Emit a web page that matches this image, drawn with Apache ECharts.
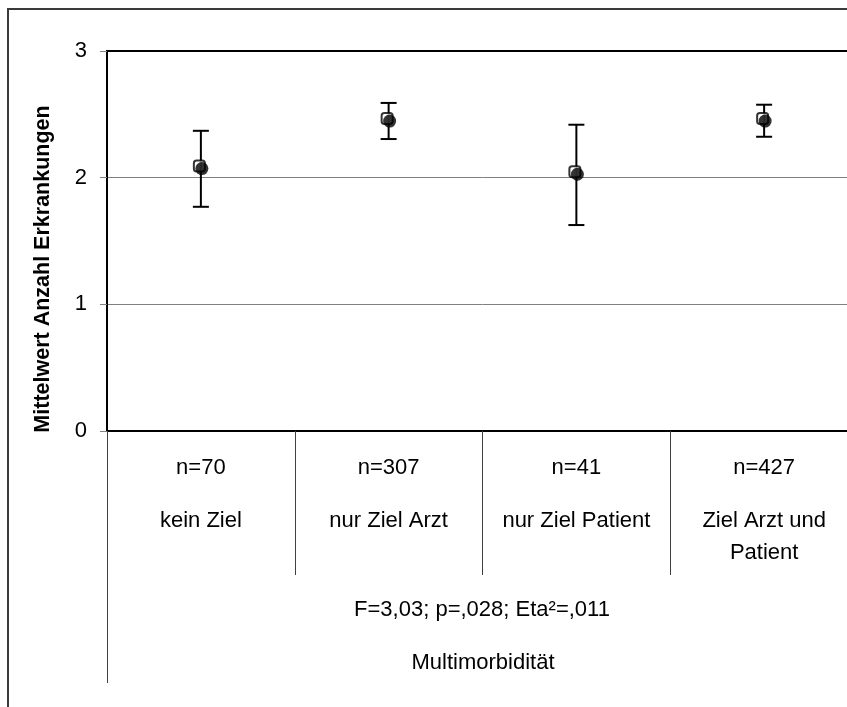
<!DOCTYPE html>
<html>
<head>
<meta charset="utf-8">
<script src="https://cdn.jsdelivr.net/npm/echarts@6/dist/echarts.min.js"></script>
<style>
  html, body { margin: 0; padding: 0; background: #fff; overflow: hidden; }
  /* the original figure is cut off on the right, so the canvas runs past the window */
  #chart { width: 870px; height: 707px; }
</style>
</head>
<body>
<div id="chart"></div>
<script>
// group labels (line breaks as in the original table cells)
var categories = ['kein Ziel', 'nur Ziel Arzt', 'nur Ziel Patient', 'Ziel Arzt und\nPatient'];
var nCounts = [70, 307, 41, 427];
// mean number of diseases and the error bar ends
var means = [2.08, 2.455, 2.035, 2.455];
var lower = [1.77, 2.305, 1.626, 2.323];
var upper = [2.37, 2.59, 2.418, 2.576];
var yMin = 0, yMax = 3, yStep = 1;

var font = "'Liberation Sans', Arial, sans-serif";

var chart = echarts.init(document.getElementById('chart'), null, { renderer: 'canvas' });

var barData = categories.map(function (c, i) { return [i, lower[i], upper[i]]; });
var meanData = categories.map(function (c, i) { return [i, means[i]]; });

function renderErrorBar(params, api) {
    var hi = api.coord([api.value(0), api.value(2)]);
    var lo = api.coord([api.value(0), api.value(1)]);
    var hw = 8;
    var style = { stroke: '#000', lineWidth: 2 };
    return {
        type: 'group',
        children: [
            { type: 'line', shape: { x1: hi[0], y1: hi[1], x2: lo[0], y2: lo[1] }, style: style },
            { type: 'line', shape: { x1: hi[0] - hw, y1: hi[1], x2: hi[0] + hw, y2: hi[1] }, style: style },
            { type: 'line', shape: { x1: lo[0] - hw, y1: lo[1], x2: lo[0] + hw, y2: lo[1] }, style: style }
        ]
    };
}

var option = {
    animation: false,
    backgroundColor: '#fff',
    textStyle: { fontFamily: font },
    grid: {
        left: 107, top: 51, width: 751, height: 380,
        show: true, borderColor: '#000', borderWidth: 2, backgroundColor: 'transparent'
    },
    xAxis: {
        type: 'category',
        data: categories,
        boundaryGap: true,
        axisLine: { show: true, lineStyle: { color: '#000', width: 2 } },
        axisTick: { show: true, interval: 0, length: 144, lineStyle: { color: '#404040', width: 1 } },
        splitLine: { show: false },
        axisLabel: {
            interval: 0,
            margin: 0,
            color: '#000',
            formatter: function (val, idx) {
                var lines = val.split('\n').map(function (l) { return '{c|' + l + '}'; });
                return '{n|n=' + nCounts[idx] + '}\n' + lines.join('\n');
            },
            rich: {
                n: { fontSize: 22, fontFamily: font, color: '#000', lineHeight: 74 },
                c: { fontSize: 22, fontFamily: font, color: '#000', lineHeight: 32 }
            }
        }
    },
    yAxis: {
        type: 'value',
        min: yMin, max: yMax, interval: yStep,
        axisLine: { show: true, lineStyle: { color: '#000', width: 2 } },
        axisTick: { show: true, length: 7, lineStyle: { color: '#808080', width: 1 } },
        splitLine: { show: true, showMaxLine: false, lineStyle: { color: '#808080', width: 1 } },
        axisLabel: { margin: 20, fontSize: 22, fontFamily: font, color: '#000' }
    },
    graphic: [
        { type: 'rect', shape: { x: 8, y: 9, width: 900, height: 800 },
          style: { fill: 'none', stroke: '#3a3a3a', lineWidth: 2 }, z: 1 },
        { type: 'line', shape: { x1: 107.5, y1: 431, x2: 107.5, y2: 683 },
          style: { stroke: '#404040', lineWidth: 1 }, z: 1 },
        { type: 'text', x: 43, y: 269, rotation: Math.PI / 2,
          style: { text: 'Mittelwert Anzahl Erkrankungen', fontSize: 21.5, fontWeight: 'bold',
                   fontFamily: font, fill: '#000', align: 'center', verticalAlign: 'middle' } },
        { type: 'text', x: 482, y: 610,
          style: { text: 'F=3,03; p=,028; Eta²=,011', fontSize: 22, fontFamily: font, fill: '#000',
                   align: 'center', verticalAlign: 'middle' } },
        { type: 'text', x: 483, y: 663,
          style: { text: 'Multimorbidität', fontSize: 22, fontFamily: font, fill: '#000',
                   align: 'center', verticalAlign: 'middle' } }
    ],
    series: [
        {
            type: 'custom',
            renderItem: renderErrorBar,
            data: barData,
            z: 3
        },
        {
            // hollow square behind the dot, as in the original marker
            type: 'scatter',
            data: meanData,
            symbol: 'roundRect',
            symbolSize: 11,
            symbolOffset: [-1.5, -1.5],
            itemStyle: { color: '#fff', borderColor: '#000', borderWidth: 2 },
            z: 4
        },
        {
            type: 'scatter',
            data: meanData,
            symbol: 'circle',
            symbolSize: 13,
            symbolOffset: [1, 1],
            itemStyle: { color: '#000' },
            z: 5
        }
    ]
};

chart.setOption(option);
</script>
</body>
</html>
